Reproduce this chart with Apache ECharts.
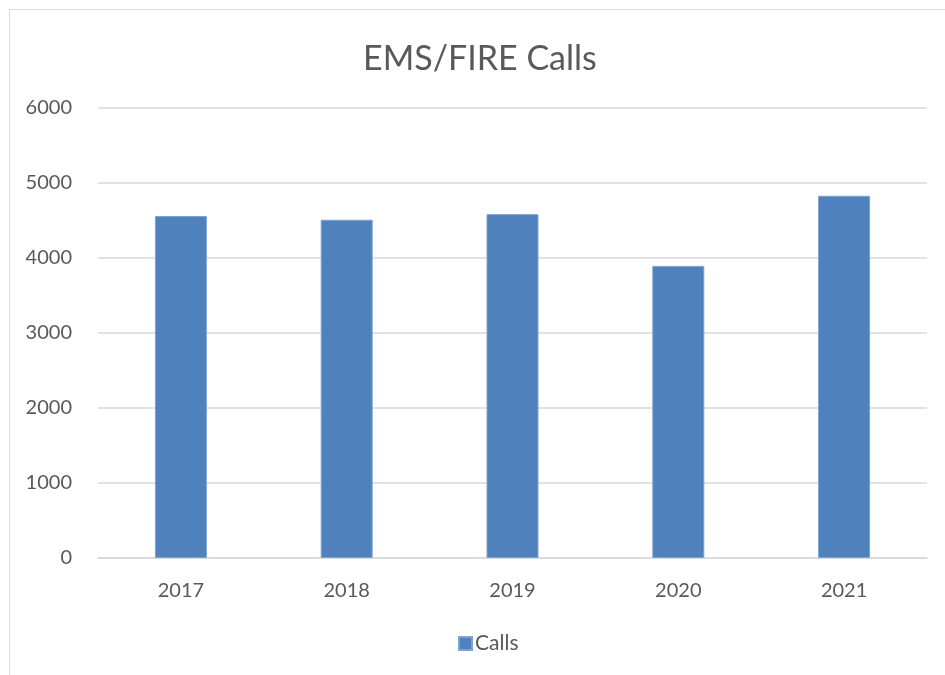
<!DOCTYPE html>
<html>
<head>
<meta charset="utf-8">
<script src="https://cdn.jsdelivr.net/npm/echarts@6/dist/echarts.min.js"></script>
<style>
  html, body { margin: 0; padding: 0; background: #fff; }
  #frame {
    position: absolute; left: 9px; top: 9px;
    width: 960px; height: 700px;
    border-left: 1px solid #d9d9d9; border-top: 1px solid #d9d9d9;
  }
  #chart { position: absolute; left: 0; top: 0; width: 945px; height: 675px; }
</style>
</head>
<body>
<div id="frame"></div>
<div id="chart"></div>
<script>
  // data
  let years = ['2017', '2018', '2019', '2020', '2021']
  let calls = [4560, 4510, 4585, 3895, 4830]

  let font = 'Lato'
  let textColor = '#595959'

  let chart = echarts.init(document.getElementById('chart'))
  let option = {
    animation: false,
    title: {
      text: 'EMS/FIRE Calls',
      left: 358,
      top: 37,
      textStyle: { fontFamily: font, fontSize: 34, fontWeight: 'normal', color: textColor }
    },
    legend: {
      data: ['Calls'],
      bottom: 16,
      left: 453,
      itemWidth: 13,
      itemHeight: 13,
      itemGap: 5,
      icon: 'rect',
      textStyle: { fontFamily: font, fontSize: 21, color: textColor, padding: [0, 0, 0, -2] }
    },
    grid: { left: 98, right: 18, top: 108, bottom: 117, containLabel: false },
    xAxis: {
      type: 'category',
      data: years,
      axisTick: { show: false },
      axisLine: { lineStyle: { color: '#d9d9d9', width: 1.5 } },
      axisLabel: { fontFamily: font, fontSize: 20, color: textColor, margin: 23 }
    },
    yAxis: {
      type: 'value',
      min: 0,
      max: 6000,
      interval: 1000,
      axisLine: { show: false },
      axisTick: { show: false },
      splitLine: { lineStyle: { color: '#d9d9d9', width: 1.5 } },
      axisLabel: {
        fontFamily: font, fontSize: 20, color: textColor, margin: 26,
        formatter: function (v) { return String(v) }
      }
    },
    series: [{
      name: 'Calls',
      type: 'bar',
      data: calls,
      barWidth: 52,
      itemStyle: { color: '#4f81bd', borderColor: '#7ea3d0', borderWidth: 1 }
    }]
  }
  chart.setOption(option)
</script>
</body>
</html>
